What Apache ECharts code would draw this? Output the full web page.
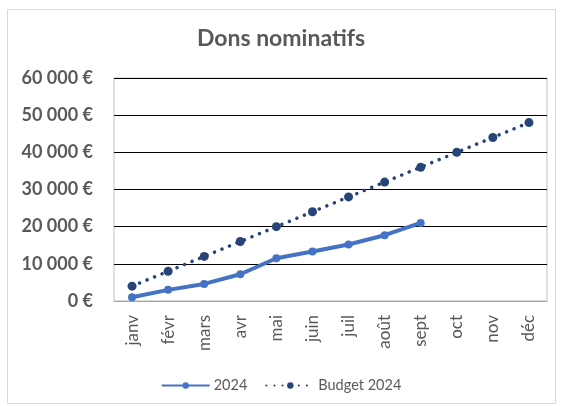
<!DOCTYPE html>
<html><head><meta charset="utf-8">
<script src="https://cdn.jsdelivr.net/npm/echarts@6/dist/echarts.min.js"></script>
<style>html,body{margin:0;padding:0;background:#fff}#c{width:562px;height:406px}</style>
</head><body><div id="c"></div>
<script>
const categories = ['janv','févr','mars','avr','mai','juin','juil','août','sept','oct','nov','déc'];
const actual2024 = [1000, 3000, 4600, 7200, 11500, 13300, 15200, 17700, 21000, null, null, null];
const budget2024 = [4000, 8000, 12000, 16000, 20000, 24000, 28000, 32000, 36000, 40000, 44000, 48000];
const seriesNames = ['2024', 'Budget 2024'];
const titleText = 'Dons nominatifs';

const chart = echarts.init(document.getElementById('c'), null, {renderer:'canvas'});
const FONT = 'Lato, "Open Sans", sans-serif';
chart.setOption({
  animation: false,
  title: {text: titleText, left: 'center', top: 22, textStyle: {fontFamily: FONT, fontSize: 23, fontWeight: 'bold', color: '#595959'}},
  graphic: [{type:'rect', shape:{x:7.5, y:9.5, width:548, height:394}, style:{fill:'none', stroke:'#d9d9d9', lineWidth:1}, silent:true, z:-1}],
  legend: {
    bottom: 8, left: 'center', itemWidth: 48, itemHeight: 8, itemGap: 18,
    textStyle: {fontFamily: FONT, fontSize: 14.5, color: '#595959', padding: [0,0,0,-1]},
    data: seriesNames
  },
  grid: {left: 114, right: 15, top: 78, bottom: 105, show: true, borderColor: '#bfbfbf', borderWidth: 1},
  xAxis: {
    type: 'category', data: categories, boundaryGap: true,
    axisLine: {lineStyle: {color: '#d9d9d9', width: 1.5}},
    axisTick: {show: false},
    axisLabel: {rotate: 90, fontFamily: FONT, fontSize: 17, color: '#595959', margin: 14}
  },
  yAxis: {
    type: 'value', min: 0, max: 60000, interval: 10000,
    axisLine: {show: false}, axisTick: {show: false},
    splitLine: {lineStyle: {color: '#000', width: 1.2}},
    axisLabel: {fontFamily: FONT, fontSize: 18, fontWeight: 'bold', color: '#595959', margin: 21,
      formatter: v => (v === 0 ? '0' : (v/1000) + '\u00a0000') + '\u00a0€'}
  },
  series: [
    {name: seriesNames[0], type: 'line', data: actual2024, symbol: 'circle', symbolSize: 8,
     lineStyle: {color: '#4472C4', width: 4}, itemStyle: {color: '#4472C4'}, connectNulls: false, z: 3},
    {name: seriesNames[1], type: 'line', data: budget2024, symbol: 'circle', symbolSize: 9,
     lineStyle: {color: '#264478', width: 3.5, type: [0.1, 8], cap: 'round'}, itemStyle: {color: '#264478'}, z: 2}
  ]
});
</script></body></html>
